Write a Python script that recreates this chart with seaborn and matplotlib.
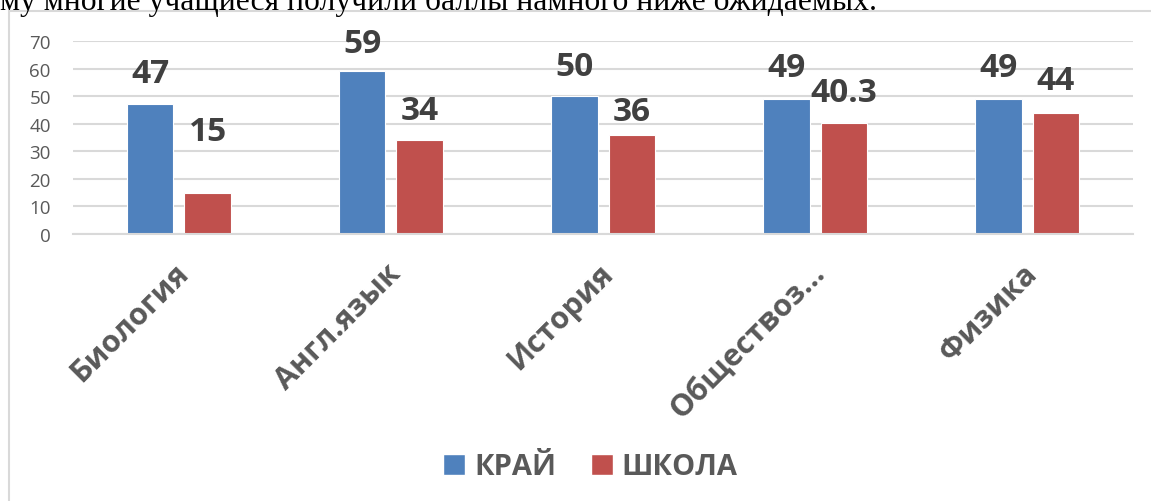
import seaborn as sns
import numpy as np
import pandas as pd
import matplotlib.pyplot as plt
import matplotlib.transforms as mtransforms
from matplotlib.patches import Rectangle, Patch

# Данные диаграммы
predmety = ["Биология", "Англ.язык", "История", "Обществоз...", "Физика"]
kray = [47, 59, 50, 49, 49]
shkola = [15, 34, 36, 40.3, 44]
serii = ["КРАЙ", "ШКОЛА"]
metki_kray = ["47", "59", "50", "49", "49"]
metki_shkola = ["15", "34", "36", "40.3", "44"]

cveta = ["#4F81BD", "#C0504D"]
seryy = "#595959"

df = pd.DataFrame({
    "predmet": predmety * 2,
    "ball": kray + shkola,
    "seriya": [serii[0]] * len(predmety) + [serii[1]] * len(predmety),
})

sns.set_style("white")
plt.rcParams['font.family'] = ['Open Sans', 'DejaVu Sans']

fig = plt.figure(figsize=(11.51, 5.02), dpi=100)
ax = fig.add_axes([0.0634, 0.5319, 0.921, 0.3844])

sns.barplot(data=df, x="predmet", y="ball", hue="seriya", palette=cveta,
            saturation=1, width=0.546, gap=0.19, edgecolor="white",
            linewidth=0.8, legend=False, ax=ax)

ax.set_ylim(0, 70)
ax.set_xlim(-0.5, len(predmety) - 0.5)
ax.set_yticks(np.arange(0, 71, 10))
ax.yaxis.grid(True, color="#D9D9D9", linewidth=1.5)
ax.set_axisbelow(True)
for s in ["top", "right", "left"]:
    ax.spines[s].set_visible(False)
ax.spines["bottom"].set_color("#D9D9D9")
ax.spines["bottom"].set_linewidth(1.5)
ax.set_xlabel("")
ax.set_ylabel("")
ax.tick_params(axis="y", length=0, pad=16, labelsize=13.5, labelcolor=seryy)
ax.tick_params(axis="x", length=0, pad=17)
ax.set_xticks(range(len(predmety)))
ax.set_xticklabels(predmety, rotation=45, ha="right", rotation_mode="anchor",
                   fontsize=22, fontweight="bold", color=seryy)
sdvig_x = mtransforms.ScaledTranslation(-5 / 100, 0, fig.dpi_scale_trans)
for t in ax.get_xticklabels():
    t.set_transform(t.get_transform() + sdvig_x)

# подписи значений (отступ от вершины столбца, пиксели)
sdvig = [[31, 28, 30, 31, 31], [61, 30, 23, 30, 32]]
for i, (cont, metki) in enumerate(zip(ax.containers, [metki_kray, metki_shkola])):
    for j, (bar, m) in enumerate(zip(cont, metki)):
        ax.annotate(m, (bar.get_x() + bar.get_width() / 2, bar.get_height()),
                    xytext=(0, sdvig[i][j] * 0.72), textcoords="offset points",
                    ha="center", va="center", fontsize=24, fontweight="bold",
                    color="#404040")

# легенда
ruchki = [Patch(facecolor=c) for c in cveta]
fig.legend(ruchki, serii, loc="center", bbox_to_anchor=(0.513, 0.068),
           ncol=2, frameon=False, handlelength=0.75, handleheight=0.75,
           handletextpad=0.3, columnspacing=1.2,
           prop={"size": 21, "weight": "bold"}, labelcolor=seryy)

# рамка диаграммы
fig.patches.append(Rectangle((9 / 1151, -0.1), 1.2, 1.1 - 12 / 502,
                             transform=fig.transFigure, fill=False,
                             edgecolor="#D9D9D9", linewidth=1.5))

# обрезанная строка текста сверху
fig.text(0.0, 1 - 10 / 502, "му многие учащиеся получили баллы намного ниже ожидаемых.",
         family="Liberation Serif", fontsize=22.8, color="black",
         ha="left", va="baseline")

fig.savefig("out.png", dpi=100)
